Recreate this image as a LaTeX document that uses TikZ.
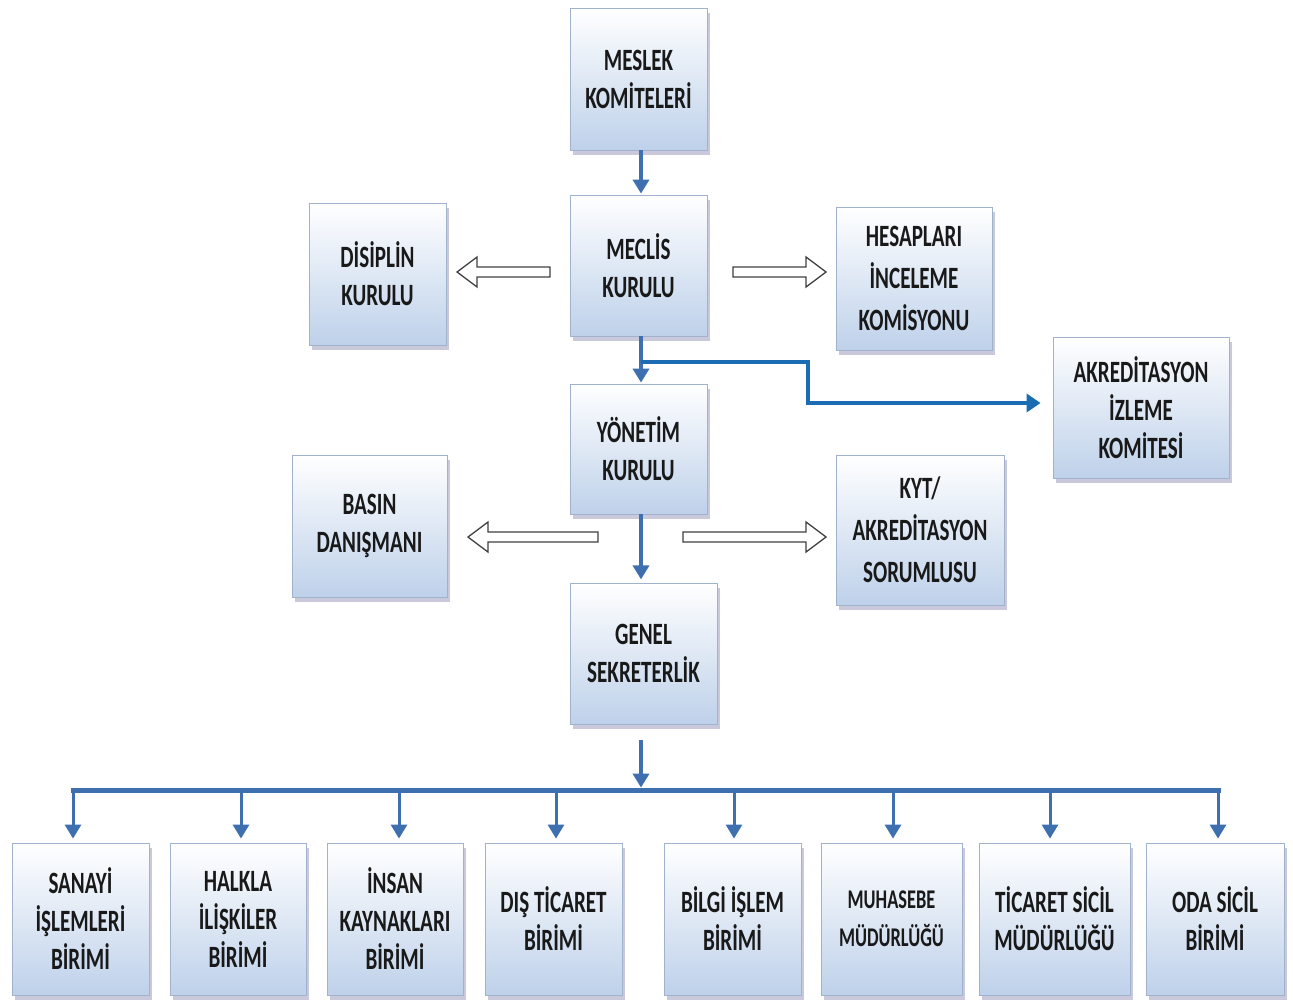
\documentclass[tikz,border=0pt]{standalone}
\usepackage{fontspec}
\newfontfamily\boxfont{Carlito}[FakeStretch=0.68]
\usetikzlibrary{calc,arrows.meta,shadows,shapes.geometric}
\definecolor{boxblue}{RGB}{190,209,234}
\definecolor{boxedge}{RGB}{160,178,204}
\definecolor{arrblue}{RGB}{62,112,176}
\definecolor{arrblue2}{RGB}{28,108,180}
\tikzset{
  orgbox/.style={draw=boxedge, line width=0.8pt, top color=white, bottom color=boxblue,
    minimum width=137pt, minimum height=142pt, inner sep=0pt, align=center,
    font=\boxfont\bfseries\fontsize{31}{38}\selectfont, text=black!90,
    drop shadow={shadow xshift=3pt, shadow yshift=-5pt, opacity=0.35, fill=gray!80!blue}},
  botbox/.style={orgbox, minimum height=152pt},
  bluearr/.style={draw=arrblue, line width=4pt, -{Triangle[length=14pt,width=16pt]}},
  bluearr2/.style={draw=arrblue2, line width=4pt, -{Triangle[length=14pt,width=18pt]}},
  busline/.style={draw=arrblue, line width=5pt},
  hollow/.style={draw=black!75, line width=1.3pt, fill=white, line join=miter}
}
\newcommand\harR[3]{\draw[hollow] (#1,#3-5) -- (#2-20,#3-5) -- (#2-20,#3-15) -- (#2,#3) -- (#2-20,#3+15) -- (#2-20,#3+5) -- (#1,#3+5) -- cycle;}
\newcommand\harL[3]{\draw[hollow] (#1,#3-5) -- (#2+20,#3-5) -- (#2+20,#3-15) -- (#2,#3) -- (#2+20,#3+15) -- (#2+20,#3+5) -- (#1,#3+5) -- cycle;}
\begin{document}
\begin{tikzpicture}[x=1pt,y=-1pt]
\path[fill=white,use as bounding box] (0,0) rectangle (1293,1001);

% upper boxes
\node[orgbox] (meslek) at (638.5,79) {MESLEK\\KOMİTELERİ};
\node[orgbox, minimum height=141pt] (meclis) at (638.5,265.5) {MECLİS\\KURULU};
\node[orgbox] (disiplin) at (377.5,274) {DİSİPLİN\\KURULU};
\node[orgbox, minimum width=156pt, minimum height=143pt] (hesap) at (914,278.5) {HESAPLARI\\[4pt]İNCELEME\\[4pt]KOMİSYONU};
\node[orgbox, minimum width=176pt, minimum height=141pt] (akred) at (1141,407.5) {AKREDİTASYON\\İZLEME\\KOMİTESİ};
\node[orgbox, minimum height=130pt] (yonetim) at (638.5,449) {YÖNETİM\\KURULU};
\node[orgbox, minimum width=155pt] (basin) at (369.5,526) {BASIN\\DANIŞMANI};
\node[orgbox, minimum width=168pt, minimum height=150pt] (kyt) at (920,530) {KYT/\\[4pt]AKREDİTASYON\\[4pt]SORUMLUSU};
\node[orgbox, minimum width=147pt, minimum height=141pt] (genel) at (643.5,653.5) {GENEL\\SEKRETERLİK};

% bottom row
\node[botbox] (sanayi) at (80.5,919) {SANAYİ\\İŞLEMLERİ\\BİRİMİ};
\node[botbox, minimum width=136pt] (halkla) at (238,919) {HALKLA\\İLİŞKİLER\\BİRİMİ};
\node[botbox, minimum width=136pt] (insan) at (395,919) {İNSAN\\KAYNAKLARI\\BİRİMİ};
\node[botbox] (dis) at (553.5,919) {DIŞ TİCARET\\BİRİMİ};
\node[botbox] (bilgi) at (732.5,919) {BİLGİ İŞLEM\\BİRİMİ};
\node[botbox, minimum width=141pt] (muh) at (891.5,919) {\fontsize{27}{36}\selectfont MUHASEBE\\\fontsize{27}{36}\selectfont MÜDÜRLÜĞÜ};
\node[botbox, minimum width=151pt] (ticsicil) at (1054.5,919) {TİCARET SİCİL\\MÜDÜRLÜĞÜ};
\node[botbox, minimum width=138pt] (oda) at (1215,919) {ODA SİCİL\\BİRİMİ};

% vertical chain
\draw[bluearr, shorten >=1pt] ($(meslek.south)+(2.5,0)$) -- ($(meclis.north)+(2.5,0)$);
\draw[bluearr, shorten >=1pt] ($(meclis.south)+(2.5,0)$) -- ($(yonetim.north)+(2.5,0)$);
\draw[bluearr2] ($(meclis.south)+(2.5,26)$) -| (808,403) -- ($(akred.west |- 808,403)+(-12,0)$);
\draw[bluearr, shorten >=2pt] ($(yonetim.south)+(2.5,0)$) -- ($(yonetim.south)+(2.5,67)$) coordinate (gtop);
\coordinate (busL) at ($(sanayi.north)+(-7.5,-52)$);
\coordinate (busR) at ($(oda.north)+(3,-52)$);
\draw[busline, line cap=rect] (busL) -- (busR);
\draw[bluearr] ($(genel.south)+(-2.5,16)$) -- ($(genel.south |- busL)+(-2.5,-3)$);
\foreach \b/\dx in {sanayi/-7.5, halkla/3, insan/4, dis/2.5, bilgi/1.5, muh/1.5, ticsicil/-4.5, oda/3}{
  \draw[bluearr, line width=3pt] ($(\b.north |- busL)+(\dx,0)$) -- ($(\b.north)+(\dx,-4)$);
}

% hollow arrows
\harL{550}{457}{272}
\harR{733}{826}{272}
\harL{598}{468}{537}
\harR{683}{826}{537}
\end{tikzpicture}
\end{document}
